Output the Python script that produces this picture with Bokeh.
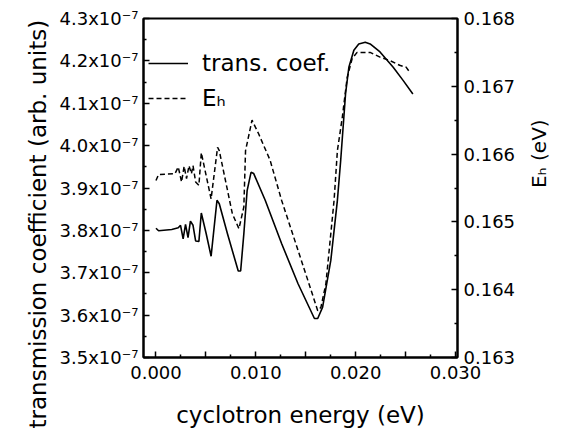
import math

from bokeh.embed import file_html
from bokeh.models import (CustomJSTickFormatter, FixedTicker, Legend,
                          LegendItem, LinearAxis, Range1d, Title)
from bokeh.plotting import figure
from bokeh.resources import INLINE

# ---- data -------------------------------------------------------------
# transmission coefficient (units of 1e-7, arb.) vs cyclotron energy (eV)
trans_energy = [0.00000, 0.00026, 0.00158, 0.00223, 0.00246, 0.00272, 0.00296, 0.00321,
                0.00345, 0.00371, 0.00397, 0.00430, 0.00454, 0.00503, 0.00552, 0.00611,
                0.00634, 0.00716, 0.00824, 0.00848, 0.00880, 0.00913, 0.00952, 0.00979,
                0.01094, 0.01258, 0.01423, 0.01587, 0.01620, 0.01669, 0.01751, 0.01817,
                0.01850, 0.01899, 0.01932, 0.01982, 0.02031, 0.02096, 0.02145, 0.02244,
                0.02376, 0.02475, 0.02573]
trans_coef = [3.805, 3.799, 3.802, 3.806, 3.812, 3.780, 3.814, 3.783, 3.822, 3.812,
              3.775, 3.774, 3.841, 3.792, 3.739, 3.871, 3.863, 3.792, 3.704, 3.704,
              3.792, 3.894, 3.937, 3.934, 3.871, 3.769, 3.674, 3.592, 3.592, 3.619,
              3.729, 3.871, 3.965, 4.123, 4.185, 4.225, 4.240, 4.244, 4.240, 4.221,
              4.185, 4.154, 4.122]

# E_h (eV) vs cyclotron energy (eV)
eh_energy = [0.00000, 0.00026, 0.00190, 0.00223, 0.00256, 0.00282, 0.00306, 0.00331,
             0.00355, 0.00371, 0.00397, 0.00430, 0.00454, 0.00552, 0.00617, 0.00634,
             0.00765, 0.00831, 0.00880, 0.00897, 0.00962, 0.01028, 0.01143, 0.01258,
             0.01423, 0.01554, 0.01620, 0.01652, 0.01702, 0.01784, 0.01817, 0.01866,
             0.01915, 0.01965, 0.02014, 0.02145, 0.02244, 0.02342, 0.02441, 0.02507,
             0.02540]
eh_value = [0.16561, 0.16570, 0.16571, 0.16581, 0.16559, 0.16582, 0.16564, 0.16583,
            0.16571, 0.16583, 0.16559, 0.16554, 0.16602, 0.16534, 0.16610, 0.16605,
            0.16512, 0.16490, 0.16522, 0.16605, 0.16650, 0.16630, 0.16591, 0.16532,
            0.16458, 0.16399, 0.16369, 0.16374, 0.16409, 0.16532, 0.16605, 0.16654,
            0.16713, 0.16741, 0.16750, 0.16750, 0.16743, 0.16738, 0.16731, 0.16728,
            0.16721]

# ---- ticks ------------------------------------------------------------
x_ticks = [0.000, 0.005, 0.010, 0.015, 0.020, 0.025, 0.030]
x_tick_labels = ["0.000", "", "0.010", "", "0.020", "", "0.030"]
left_ticks = [3.5, 3.6, 3.7, 3.8, 3.9, 4.0, 4.1, 4.2, 4.3]
left_tick_labels = ["3.5x10⁻⁷", "3.6x10⁻⁷", "3.7x10⁻⁷", "3.8x10⁻⁷", "3.9x10⁻⁷",
                    "4.0x10⁻⁷", "4.1x10⁻⁷", "4.2x10⁻⁷", "4.3x10⁻⁷"]
right_ticks = [0.163, 0.164, 0.165, 0.166, 0.167, 0.168]
right_tick_labels = ["0.163", "0.164", "0.165", "0.166", "0.167", "0.168"]

FONT = "DejaVu Sans"


def midpoints(vals):
    return [(a + b) / 2 for a, b in zip(vals[:-1], vals[1:])]


def lookup_formatter(vals, labels):
    return CustomJSTickFormatter(
        args=dict(vals=vals, labels=labels),
        code="""
            for (let i = 0; i < vals.length; i++) {
                if (Math.abs(vals[i] - tick) < 1e-9) { return labels[i]; }
            }
            return "";
        """,
    )


x_lo, x_hi = -0.00125, 0.0302
y_lo, y_hi = 3.5, 4.3

p = figure(width=566, height=430, output_backend="svg", toolbar_location=None,
           x_range=Range1d(x_lo, x_hi), y_range=Range1d(y_lo, y_hi),
           min_border_left=143, min_border_right=104,
           min_border_top=18, min_border_bottom=73)
p.grid.visible = False
p.outline_line_color = "black"
p.outline_line_width = 2
p.background_fill_color = "white"
p.border_fill_color = "white"

p.extra_y_ranges = {"eh": Range1d(0.163, 0.168)}
right_axis = LinearAxis(y_range_name="eh")
p.add_layout(right_axis, "right")


def style_axis(ax):
    ax.axis_line_width = 2
    ax.axis_line_color = "black"
    ax.major_tick_in = 6
    ax.major_tick_out = 0
    ax.minor_tick_in = 3
    ax.minor_tick_out = 0
    ax.major_tick_line_width = 1.5
    ax.minor_tick_line_width = 1.5
    ax.major_label_text_font = FONT
    ax.major_label_text_font_size = "18px"
    ax.major_label_text_color = "black"
    ax.axis_label_text_font = FONT
    ax.axis_label_text_font_style = "normal"
    ax.axis_label_text_color = "black"


xaxis = p.xaxis[0]
yaxis = p.yaxis[0]
for ax in (xaxis, yaxis, right_axis):
    style_axis(ax)

xaxis.ticker = FixedTicker(ticks=x_ticks, minor_ticks=midpoints(x_ticks))
xaxis.formatter = lookup_formatter(x_ticks, x_tick_labels)
xaxis.major_label_standoff = 8
xaxis.axis_label = "cyclotron energy (eV)"
xaxis.axis_label_text_font_size = "23px"
xaxis.axis_label_standoff = 20

yaxis.ticker = FixedTicker(ticks=left_ticks, minor_ticks=midpoints(left_ticks))
yaxis.formatter = lookup_formatter(left_ticks, left_tick_labels)
yaxis.major_label_standoff = 5

right_axis.ticker = FixedTicker(ticks=right_ticks, minor_ticks=midpoints(right_ticks))
right_axis.formatter = lookup_formatter(right_ticks, right_tick_labels)
right_axis.major_label_standoff = 6
right_axis.axis_label = "Eₕ (eV)"
right_axis.axis_label_text_font_size = "20px"
right_axis.axis_label_standoff = 21
if "axis_label_orientation" in right_axis.properties():
    # read the right-hand title from bottom to top
    right_axis.axis_label_orientation = math.pi / 2

# left-hand title, starting near the bottom edge of the canvas
p.add_layout(Title(text="transmission coefficient (arb. units)", align="left",
                   offset=-71, standoff=10, vertical_align="middle",
                   text_font=FONT, text_font_size="23px",
                   text_font_style="normal", text_color="black"), "left")

# ---- curves -----------------------------------------------------------
trans_line = p.line(trans_energy, trans_coef, line_color="black", line_width=1.6)
eh_line = p.line(eh_energy, eh_value, y_range_name="eh", line_color="black",
                 line_width=1.5, line_dash="5 3")

legend = Legend(items=[LegendItem(label="trans. coef.", renderers=[trans_line]),
                       LegendItem(label="Eₕ", renderers=[eh_line])],
                location=(5, 244), orientation="vertical",
                label_text_font=FONT, label_text_font_size="23px",
                label_text_color="black",
                glyph_width=40, glyph_height=30, label_height=30,
                label_standoff=14, spacing=5, padding=0, margin=0,
                border_line_color=None, background_fill_alpha=0)
p.add_layout(legend)

open("out.html", "w").write(file_html(p, INLINE))
